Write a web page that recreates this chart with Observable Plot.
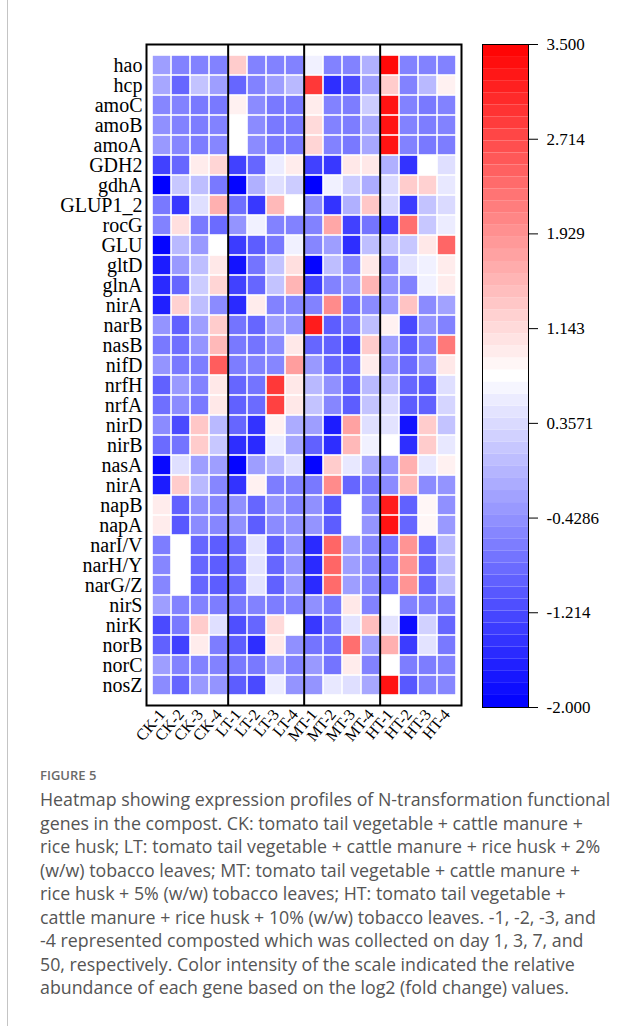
<!DOCTYPE html>
<html><head><meta charset="utf-8">
<script src="https://cdn.jsdelivr.net/npm/d3@7"></script>
<script src="https://cdn.jsdelivr.net/npm/@observablehq/plot@0.6"></script>
<style>
html,body{margin:0;padding:0;background:#fff;}
#wrap{position:relative;width:643px;height:1026px;overflow:hidden;background:#fff;}
#border{position:absolute;left:7px;top:0;width:1px;height:1026px;background:#c4c4c4;z-index:5;}
#heat{position:absolute;left:0;top:0;}
#bar{position:absolute;left:470px;top:0;}
#fig{position:absolute;left:40px;top:766px;font-family:"Open Sans";font-size:13px;font-weight:600;color:#6a6a6a;}
#cap{position:absolute;left:40px;top:788px;width:603px;font-family:"Open Sans";font-size:17.8px;line-height:23.5px;color:#555;}
#cap div{white-space:nowrap;}
</style>
</head><body>
<div id="wrap">
  <div id="border"></div>
  <div id="heat"></div>
  <div id="bar"></div>
  <div id="fig">FIGURE 5</div>
  <div id="cap"></div>
</div>
<script>
const genes = ["hao","hcp","amoC","amoB","amoA","GDH2","gdhA","GLUP1_2","rocG","GLU","gltD","glnA","nirA","narB","nasB","nifD","nrfH","nrfA","nirD","nirB","nasA","nirA","napB","napA","narI/V","narH/Y","narG/Z","nirS","nirK","norB","norC","nosZ"];
const samples = ["CK-1","CK-2","CK-3","CK-4","LT-1","LT-2","LT-3","LT-4","MT-1","MT-2","MT-3","MT-4","HT-1","HT-2","HT-3","HT-4"];
const groupStarts = ["LT-1","MT-1","HT-1"];
const values = [
  [-0.3,-0.6,-0.6,-0.6, 1.3,-0.6,-0.6,-0.6, 0.6,-0.6,-0.6,-0.1, 3.4,-0.6,-0.6,-0.6],
  [-0.2,-0.9,0.1,-0.3, -0.9,-0.6,-0.3,0.0, 2.9,-1.5,-1.2,-0.3, 1.3,-0.6,0.0,0.9],
  [-0.55,-0.6,-0.7,-0.7, 0.9,-0.5,-0.7,-0.7, 0.95,-0.6,-0.65,0.2, 3.3,-0.6,-0.7,-0.6],
  [-0.45,-0.6,-0.65,-0.6, 0.75,-0.5,-0.7,-0.7, 1.15,-0.6,-0.65,-0.2, 3.3,-0.6,-0.65,-0.6],
  [-0.35,-0.55,-0.65,-0.55, 0.75,-0.5,-0.7,-0.7, 1.2,-0.6,-0.7,-0.2, 3.3,-0.6,-0.7,-0.65],
  [-1.3,-0.9,0.95,1.2, -1.3,-0.9,0.55,0.95, -1.3,-1.4,1.0,1.0, -0.1,-1.45,0.75,0.4],
  [-2.0,0.15,0.05,-0.7, -1.95,-0.1,0.4,0.2, -2.0,0.6,0.2,-0.15, 0.35,1.3,1.25,0.5],
  [-0.7,-1.4,0.4,1.6, -0.8,-1.4,1.5,0.75, -0.5,-1.45,-0.1,1.35, 0.3,-1.35,0.1,0.35],
  [-0.6,1.1,-0.7,-0.85, -0.4,0.6,-0.6,-0.6, -0.6,1.7,-1.3,-0.75, -1.3,2.3,0.15,0.55],
  [-1.95,0.0,-0.35,0.75, -1.35,-1.0,-0.7,0.6, -0.55,-0.3,-1.5,0.05, 0.1,0.15,1.0,2.4],
  [-1.7,-0.35,0.05,1.0, -1.8,-0.75,0.1,1.1, -1.95,0.05,-0.6,1.0, -0.5,0.45,0.6,0.95],
  [-1.55,-0.9,0.2,1.2, -1.3,-0.9,0.1,1.55, -1.3,-0.6,-0.4,1.55, -0.4,-0.6,0.6,0.95],
  [-1.65,1.25,0.05,-0.5, -1.55,0.95,-0.6,-0.55, -0.6,2.0,-0.85,-0.5, -0.35,1.4,-0.5,-0.25],
  [-0.4,-0.95,-0.3,1.3, -0.75,-0.9,-0.3,-0.4, 3.2,-1.0,-0.75,0.05, 0.9,-1.2,-0.4,-0.6],
  [-0.7,-0.8,-0.4,1.5, -0.7,-0.75,-0.5,1.0, -0.9,-0.95,-1.2,1.3, -0.3,-1.0,-0.6,2.2],
  [-0.4,-0.7,-0.65,2.5, -0.65,-0.6,-0.55,1.8, -0.35,-0.9,-0.9,0.95, -0.3,-0.85,-0.4,1.0],
  [-0.95,-0.35,-0.6,1.0, -0.9,-0.75,2.9,1.0, 0.0,-0.45,-0.95,0.0, 0.05,-0.9,-1.0,0.4],
  [-0.8,-0.5,-0.7,1.0, -0.95,-0.85,2.8,1.0, 0.1,-0.55,-1.0,0.1, 0.35,-1.0,-0.95,0.3],
  [-0.5,-1.2,1.35,0.0, -0.9,-1.45,0.9,-0.15, -0.3,-1.7,1.75,0.4, 0.45,-1.8,1.3,0.1],
  [-0.85,-0.75,1.3,0.15, -1.5,-1.55,0.55,-0.2, -0.95,-1.5,1.5,0.6, 0.75,-1.5,1.3,0.5],
  [-1.9,0.4,-0.3,-0.3, -1.95,-0.3,-0.05,0.4, -1.95,1.3,0.5,-0.2, -0.4,1.6,0.5,0.9],
  [-1.7,1.3,0.0,-0.55, -1.45,0.9,-0.65,-0.6, -0.7,2.0,-0.9,-0.7, -0.5,1.5,-0.5,-0.4],
  [0.95,-0.95,-0.45,-0.55, -0.45,-0.9,-0.4,-0.6, -0.45,-1.05,0.75,-0.55, 3.2,-0.95,0.85,-0.45],
  [0.95,-1.05,-0.5,-0.55, -0.45,-1.0,-0.5,-0.45, -0.4,-1.0,0.75,-0.4, 3.3,-0.9,0.85,-0.35],
  [-0.65,0.75,-0.9,-1.0, -0.85,0.45,-0.95,-0.4, -1.55,2.4,-0.3,-0.55, -0.75,1.9,-0.9,0.0],
  [-0.55,0.75,-0.9,-1.0, -0.85,0.45,-0.9,-0.4, -1.55,2.4,-0.3,-0.55, -0.75,1.9,-0.9,0.0],
  [-0.55,0.75,-0.9,-1.0, -0.85,0.45,-0.95,-0.35, -1.55,2.35,-0.3,-0.55, -0.75,1.9,-0.9,0.0],
  [-0.3,-0.6,-0.6,-0.65, -0.7,-0.6,-0.65,-0.6, -0.45,-0.7,1.0,-0.6, 0.75,-0.6,-0.65,-0.65],
  [-1.2,-0.7,1.3,0.4, -1.15,-0.9,1.15,0.75, -1.4,-0.75,0.45,1.45, 0.45,-1.85,0.25,-0.9],
  [-0.95,-1.3,0.95,-0.65, -1.0,-1.5,1.0,-0.45, -0.75,-0.8,2.3,-0.3, 1.6,-1.35,0.45,-0.7],
  [-0.3,-0.6,-0.6,-0.6, -0.7,-0.7,-0.35,-0.6, -0.35,-0.75,0.95,-0.6, 0.75,-0.65,-0.65,-0.6],
  [-0.5,-0.9,-0.35,-0.4, -1.0,-1.2,0.55,-0.4, -0.4,0.5,0.4,-0.2, 3.3,-1.05,-0.6,-0.55]
];
const colorDomain = [-2, 0.75, 3.5];
const colorRange = ["#0000ff", "#ffffff", "#ff0000"];
const legendTickLabels = ["3.500","2.714","1.929","1.143","0.3571","-0.4286","-1.214","-2.000"];
const captionLines = [
  "Heatmap showing expression profiles of N-transformation functional",
  "genes in the compost. CK: tomato tail vegetable + cattle manure +",
  "rice husk; LT: tomato tail vegetable + cattle manure + rice husk + 2%",
  "(w/w) tobacco leaves; MT: tomato tail vegetable + cattle manure +",
  "rice husk + 5% (w/w) tobacco leaves; HT: tomato tail vegetable +",
  "cattle manure + rice husk + 10% (w/w) tobacco leaves. -1, -2, -3, and",
  "-4 represented composted which was collected on day 1, 3, 7, and",
  "50, respectively. Color intensity of the scale indicated the relative",
  "abundance of each gene based on the log2 (fold change) values."
];

const cells = [];
genes.forEach((g, i) => samples.forEach((s, j) => cells.push({row: i, sample: s, value: values[i][j]})));
const colorOpts = {type: "linear", domain: colorDomain, range: colorRange, interpolate: "rgb"};

const W = 470, ML = 146, MR = 9, H = 770;
const bw = (W - ML - MR) / samples.length;
const heat = Plot.plot({
  width: W, height: H, marginLeft: ML, marginRight: MR, marginTop: 44, marginBottom: H - 705,
  x: {domain: samples, padding: 0, axis: null, label: null},
  y: {domain: d3.range(genes.length), padding: 0, axis: null, label: null},
  color: colorOpts,
  style: {fontFamily: "'Liberation Serif', 'Times New Roman', serif", background: "transparent", color: "black"},
  marks: [
    Plot.cell(cells, {x: "sample", y: "row", fill: "value", inset: 0.8}),
    Plot.axisY({tickSize: 0, tickPadding: 4, tickFormat: i => genes[i], fontSize: 20, label: null}),
    Plot.axisX({tickSize: 0, tickPadding: 6, tickRotate: -50, fontSize: 16, label: null}),
    Plot.ruleX(groupStarts, {x: d => d, dx: -bw / 2, stroke: "black", strokeWidth: 2}),
    Plot.frame({stroke: "black", strokeWidth: 2})
  ]
});
document.getElementById("heat").appendChild(heat);

const nBands = 55;
const bands = d3.range(nBands).map(k => {
  const lo = colorDomain[0] + (colorDomain[2] - colorDomain[0]) * k / nBands;
  const hi = colorDomain[0] + (colorDomain[2] - colorDomain[0]) * (k + 1) / nBands;
  return {lo, hi, mid: (lo + hi) / 2};
});
const tickValues = legendTickLabels.map(Number);
const bar = Plot.plot({
  width: 173, height: H, marginLeft: 12, marginRight: 115, marginTop: 44, marginBottom: H - 707,
  x: {domain: [0, 1], axis: null},
  y: {domain: [colorDomain[0], colorDomain[2]], axis: null, label: null},
  color: colorOpts,
  style: {fontFamily: "'Liberation Serif', 'Times New Roman', serif", background: "transparent", color: "black"},
  marks: [
    Plot.rect(bands, {x1: 0, x2: 1, y1: "lo", y2: "hi", fill: "mid"}),
    Plot.frame({stroke: "black", strokeWidth: 1}),
    Plot.axisY({anchor: "right", ticks: tickValues, tickSize: 9, tickPadding: 9, fontSize: 17, label: null,
      tickFormat: d => legendTickLabels[tickValues.indexOf(d)]})
  ]
});
document.getElementById("bar").appendChild(bar);

const cap = document.getElementById("cap");
captionLines.forEach(t => { const d = document.createElement("div"); d.textContent = t; cap.appendChild(d); });
</script>
</body></html>
